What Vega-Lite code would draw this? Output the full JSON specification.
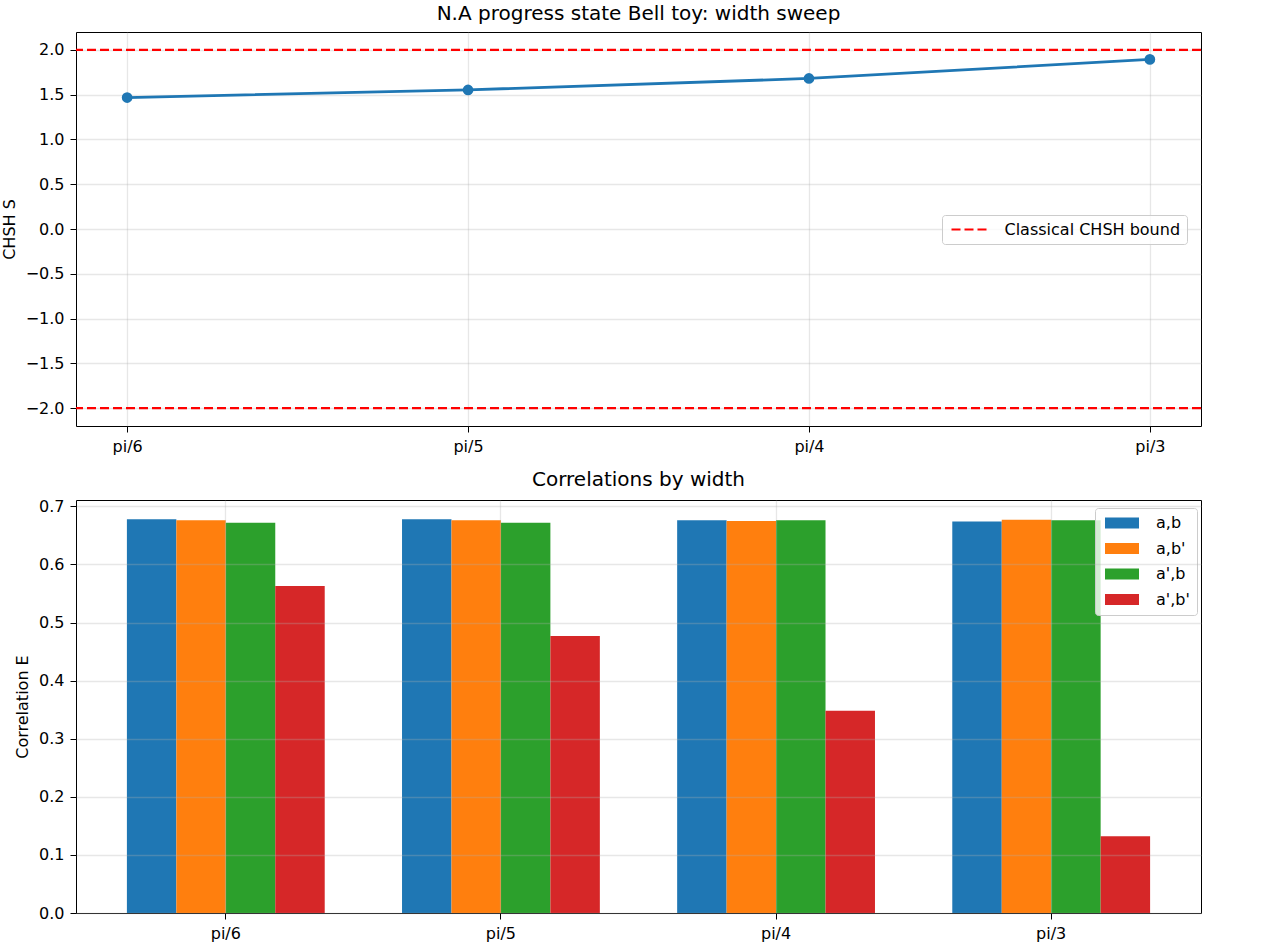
{
  "$schema": "https://vega.github.io/schema/vega-lite/v6.json",
  "padding": {"left": 0, "top": 3, "right": 5, "bottom": 5},
  "config": {
    "font": "DejaVu Sans",
    "view": {"stroke": "black", "strokeWidth": 1},
    "axis": {
      "domain": false,
      "tickColor": "black",
      "tickSize": 6,
      "labelColor": "black",
      "labelFontSize": 16,
      "labelPadding": 6,
      "labelFont": "DejaVu Sans",
      "titleFont": "DejaVu Sans",
      "titleFontSize": 16,
      "titleFontWeight": "normal",
      "titleColor": "black",
      "gridColor": "#b0b0b0",
      "gridOpacity": 0.3,
      "gridWidth": 1.3
    },
    "title": {"fontSize": 20, "fontWeight": "normal", "color": "black", "font": "DejaVu Sans", "offset": 8},
    "legend": {"labelFont": "DejaVu Sans", "labelColor": "black", "labelFontSize": 16, "labelLimit": 400}
  },
  "resolve": {"legend": {"color": "independent", "stroke": "independent"}},
  "spacing": 14,
  "vconcat": [
    {
      "title": "N.A progress state Bell toy: width sweep",
      "width": 1125,
      "height": 394,
      "layer": [
        {
          "data": {"values": [
            {"width": "pi/6", "S": 1.468},
            {"width": "pi/5", "S": 1.553},
            {"width": "pi/4", "S": 1.681},
            {"width": "pi/3", "S": 1.894}
          ]},
          "mark": {"type": "line", "color": "#1f77b4", "strokeWidth": 2.8, "point": {"filled": true, "size": 115, "color": "#1f77b4", "opacity": 1}},
          "encoding": {
            "x": {"field": "width", "type": "ordinal", "sort": null, "scale": {"type": "point", "padding": 0.15},
                  "axis": {"title": null, "labelAngle": 0, "grid": true}},
            "y": {"field": "S", "type": "quantitative", "scale": {"domain": [-2.2, 2.2], "nice": false, "zero": false},
                  "axis": {"title": "CHSH S", "values": [-2, -1.5, -1, -0.5, 0, 0.5, 1, 1.5, 2], "format": ".1f", "titlePadding": 8, "grid": true}}
          }
        },
        {
          "data": {"values": [{"bound": 2}, {"bound": -2}]},
          "mark": {"type": "rule", "strokeDash": [9, 4], "strokeWidth": 2.2},
          "encoding": {
            "y": {"field": "bound", "type": "quantitative"},
            "stroke": {"datum": "Classical CHSH bound", "type": "nominal", "scale": {"range": ["#ff0000"]},
              "legend": {"title": null, "orient": "none", "legendX": 866, "legendY": 183,
                "symbolType": "M-1,0H6", "symbolSize": 100, "symbolStrokeWidth": 2.2, "symbolDash": [9, 4],
                "symbolFillColor": "transparent", "labelOffset": 40, "padding": 6.5,
                "strokeColor": "#cccccc", "fillColor": "rgba(255,255,255,0.8)", "cornerRadius": 3}}
          }
        }
      ]
    },
    {
      "title": "Correlations by width",
      "width": 1125,
      "height": 413,
      "data": {"values": [
        {"width": "pi/6", "pair": "a,b", "E": 0.678},
        {"width": "pi/6", "pair": "a,b'", "E": 0.676},
        {"width": "pi/6", "pair": "a',b", "E": 0.672},
        {"width": "pi/6", "pair": "a',b'", "E": 0.563},
        {"width": "pi/5", "pair": "a,b", "E": 0.678},
        {"width": "pi/5", "pair": "a,b'", "E": 0.676},
        {"width": "pi/5", "pair": "a',b", "E": 0.672},
        {"width": "pi/5", "pair": "a',b'", "E": 0.477},
        {"width": "pi/4", "pair": "a,b", "E": 0.676},
        {"width": "pi/4", "pair": "a,b'", "E": 0.675},
        {"width": "pi/4", "pair": "a',b", "E": 0.676},
        {"width": "pi/4", "pair": "a',b'", "E": 0.348},
        {"width": "pi/3", "pair": "a,b", "E": 0.674},
        {"width": "pi/3", "pair": "a,b'", "E": 0.677},
        {"width": "pi/3", "pair": "a',b", "E": 0.676},
        {"width": "pi/3", "pair": "a',b'", "E": 0.132}
      ]},
      "mark": {"type": "bar"},
      "encoding": {
        "x": {"field": "width", "type": "nominal", "sort": null, "scale": {"paddingInner": 0.281, "paddingOuter": 0.185},
              "axis": {"title": null, "labelAngle": 0, "grid": true, "zindex": 1}},
        "xOffset": {"field": "pair", "type": "nominal", "sort": null, "scale": {"paddingInner": 0, "paddingOuter": 0}},
        "y": {"field": "E", "type": "quantitative", "scale": {"domain": [0, 0.711], "nice": false},
              "axis": {"title": "Correlation E", "values": [0, 0.1, 0.2, 0.3, 0.4, 0.5, 0.6, 0.7], "format": ".1f", "titlePadding": 8, "grid": true, "zindex": 1}},
        "color": {"field": "pair", "type": "nominal", "sort": null,
          "scale": {"domain": ["a,b", "a,b'", "a',b", "a',b'"], "range": ["#1f77b4", "#ff7f0e", "#2ca02c", "#d62728"]},
          "legend": {"title": null, "orient": "none", "legendX": 1019, "legendY": 8,
            "symbolType": "M-1,-1.1H5.8V1.1H-1Z", "symbolSize": 100, "symbolStrokeWidth": 0, "symbolOpacity": 1,
            "labelOffset": 38, "padding": 7, "rowPadding": 9.5,
            "strokeColor": "#cccccc", "fillColor": "rgba(255,255,255,0.8)", "cornerRadius": 3}}
      }
    }
  ]
}
